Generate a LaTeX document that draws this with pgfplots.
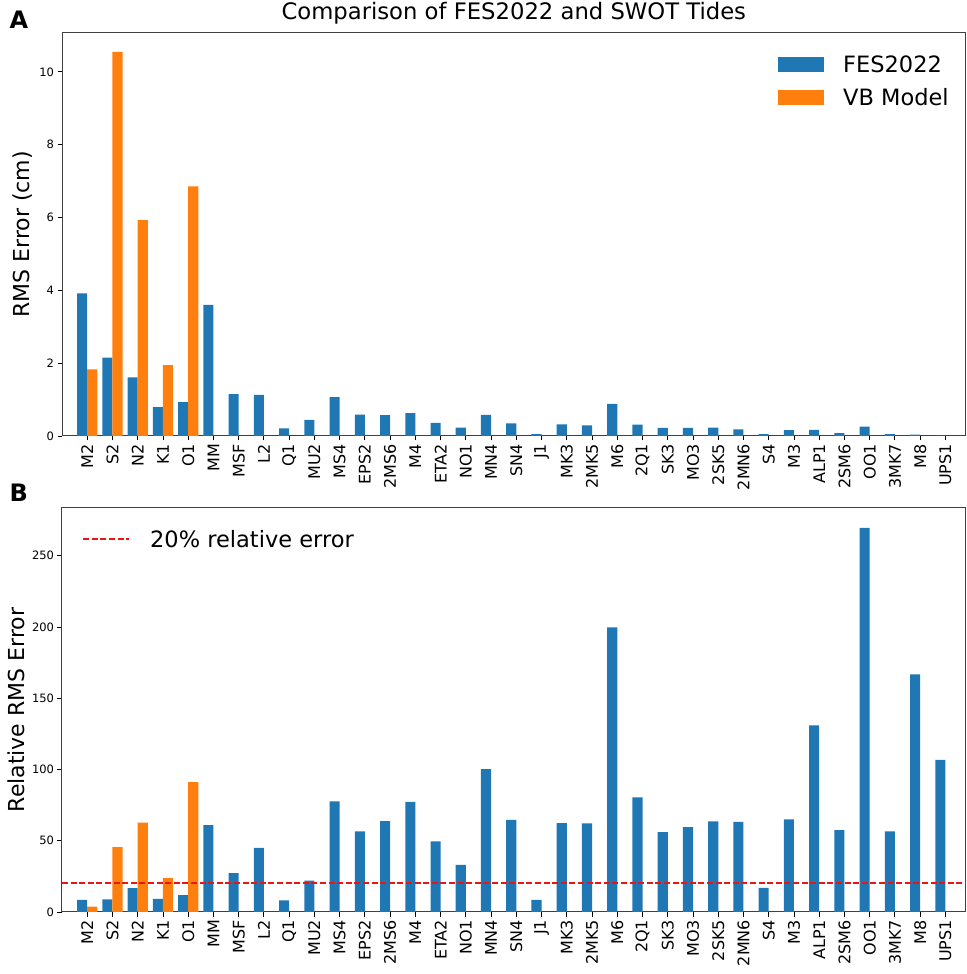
\documentclass[border=0pt]{standalone}
\usepackage{fontspec}
\setmainfont{DejaVu Sans}
\usepackage{pgfplots}
\usepackage{pgfplotstable}
\pgfplotsset{compat=1.18}
\definecolor{c1}{HTML}{1F77B4}
\definecolor{c2}{HTML}{FF7F0E}
\definecolor{rline}{RGB}{235,20,20}

\pgfplotstableread{
x fes
0 3.92
1 2.15
2 1.61
3 0.79
4 0.93
5 3.60
6 1.15
7 1.13
8 0.21
9 0.44
10 1.07
11 0.59
12 0.57
13 0.63
14 0.36
15 0.23
16 0.58
17 0.35
18 0.05
19 0.32
20 0.29
21 0.88
22 0.31
23 0.22
24 0.22
25 0.23
26 0.18
27 0.05
28 0.16
29 0.17
30 0.08
31 0.26
32 0.05
33 0.04
34 0.01
}\topfes
\pgfplotstableread{
x vb
0 1.83
1 10.55
2 5.93
3 1.95
4 6.86
}\topvb
\pgfplotstableread{
x fes
0 8.5
1 8.9
2 16.7
3 9.2
4 11.8
5 61.0
6 27.2
7 45.0
8 8.2
9 22.1
10 77.7
11 56.6
12 63.8
13 77.2
14 49.5
15 33.1
16 100.2
17 64.6
18 8.5
19 62.4
20 62.2
21 199.8
22 80.5
23 56.1
24 59.6
25 63.6
26 63.2
27 16.9
28 65.0
29 131.0
30 57.5
31 269.5
32 56.6
33 166.7
34 106.8
}\botfes
\pgfplotstableread{
x vb
0 3.8
1 45.5
2 62.7
3 23.7
4 91.1
}\botvb

\pgfplotsset{
  common/.style={
    scale only axis, width=903.6pt, height=403pt,
    anchor=south west,
    xmin=-1, xmax=34.8, ymin=0,
    xtick={0,...,34},
    xticklabels={M2,S2,N2,K1,O1,MM,MSF,L2,Q1,MU2,MS4,EPS2,2MS6,M4,ETA2,NO1,MN4,SN4,J1,MK3,2MK5,M6,2Q1,SK3,MO3,2SK5,2MN6,S4,M3,ALP1,2SM6,OO1,3MK7,M8,UPS1},
    tick pos=left, tick align=outside, major tick length=4.5pt,
    tick style={black, line width=0.9pt},
    axis line style={black!75, line width=1pt},
    /pgf/number format/assume math mode=true,
    xticklabel style={rotate=90, anchor=east, font=\fontsize{16}{16}\selectfont},
    yticklabel style={font=\fontsize{11.5}{11.5}\selectfont},
    ylabel style={font=\fontsize{22}{22}\selectfont},
    legend cell align=left,
  },
  fesbar/.style={ybar, bar width=10.1pt, bar shift=-5.05pt, fill=c1, draw=none,
    legend image code/.code={\fill[c1] (0pt,-7.5pt) rectangle (46pt,7.5pt); \path (63pt,0pt);}},
  vbbar/.style={ybar, bar width=10.1pt, bar shift=5.05pt, fill=c2, draw=none,
    legend image code/.code={\fill[c2] (0pt,-7.5pt) rectangle (46pt,7.5pt); \path (63pt,0pt);}},
}

\begin{document}
\begin{tikzpicture}
\useasboundingbox (0,0) rectangle (966pt,974pt);
\begin{axis}[common,
  at={(62pt,538pt)},
  ymax=11.07, ytick={0,2,4,6,8,10},
  ylabel={RMS Error (cm)},
  title={Comparison of FES2022 and SWOT Tides},
  title style={at={(0.5,1)}, anchor=base, yshift=7pt, font=\fontsize{22.7}{22.7}\selectfont},
  legend style={at={(0.7924,0.95)}, anchor=north west, draw=none, fill=none, inner sep=0pt,
    font=\fontsize{22.5}{22.5}\selectfont, row sep=11pt},
]
\addplot[fesbar] table[x=x,y=fes]{\topfes};
\addlegendentry{FES2022}
\addplot[vbbar] table[x=x,y=vb]{\topvb};
\addlegendentry{VB Model}
\end{axis}

\begin{axis}[common,
  at={(62pt,62pt)}, height=404pt,
  ymax=283.5, ytick={0,50,100,150,200,250},
  ylabel={Relative RMS Error},
  legend style={at={(0.0221,0.951)}, anchor=north west, draw=none, fill=none, inner sep=0pt,
    font=\fontsize{22.5}{22.5}\selectfont},
]
\addplot[fesbar, forget plot] table[x=x,y=fes]{\botfes};
\addplot[vbbar, forget plot] table[x=x,y=vb]{\botvb};
\addplot[draw=rline, color=rline, line width=2pt, dash pattern=on 6pt off 2.6pt,
  legend image code/.code={\draw[draw=rline, line width=2pt, dash pattern=on 6pt off 2.6pt] (0pt,0pt) -- (46pt,0pt); \path (64pt,0pt);}]
  coordinates {(-1,20) (34.8,20)};
\addlegendentry{20\% relative error}
\end{axis}

\node[anchor=base west, font=\bfseries\fontsize{24}{24}\selectfont, inner sep=0pt] at (9.5pt,945pt) {A};
\node[anchor=base west, font=\bfseries\fontsize{24}{24}\selectfont, inner sep=0pt] at (9.5pt,472pt) {B};
\end{tikzpicture}
\end{document}
